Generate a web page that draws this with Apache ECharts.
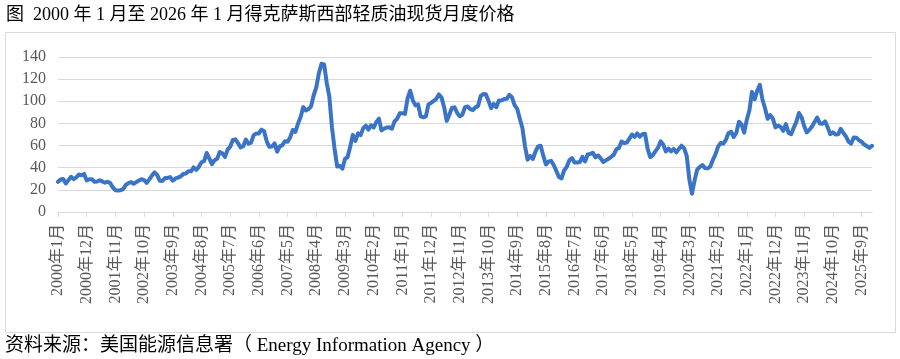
<!DOCTYPE html>
<html><head><meta charset="utf-8">
<script src="https://cdn.jsdelivr.net/npm/echarts@6/dist/echarts.min.js"></script>
<style>html,body{margin:0;padding:0;background:#fff}#c{width:900px;height:359px}</style>
</head><body><div id="c"></div>
<script>
const years = [];
for (let y = 2000; y <= 2026; y++) years.push(y);
const p2000 = [27.26, 29.37, 29.84, 25.72, 28.79, 31.82, 29.70, 31.26, 33.88, 33.11, 34.42, 28.44];
const p2001 = [29.59, 29.61, 27.25, 27.49, 28.63, 27.60, 26.43, 27.37, 26.20, 22.17, 19.64, 19.39];
const p2002 = [19.72, 20.72, 24.53, 26.18, 27.04, 25.52, 26.97, 28.39, 29.66, 28.84, 26.35, 29.46];
const p2003 = [32.95, 35.83, 33.51, 28.17, 28.11, 30.66, 30.75, 31.57, 28.31, 30.34, 31.11, 32.13];
const p2004 = [34.31, 34.69, 36.74, 36.75, 40.28, 38.03, 40.78, 44.90, 45.94, 53.28, 48.47, 43.15];
const p2005 = [46.84, 48.15, 54.19, 52.98, 49.83, 56.35, 59.00, 64.99, 65.59, 62.26, 58.32, 59.41];
const p2006 = [65.49, 61.63, 62.69, 69.44, 70.84, 70.95, 74.41, 73.04, 63.80, 58.89, 59.08, 61.96];
const p2007 = [54.51, 59.28, 60.44, 63.98, 63.46, 67.49, 74.12, 72.36, 79.92, 85.80, 94.77, 91.69];
const p2008 = [92.97, 95.39, 105.45, 112.58, 125.40, 133.88, 133.37, 116.67, 104.11, 76.61, 57.31, 41.12];
const p2009 = [41.71, 39.09, 47.94, 49.65, 59.03, 69.64, 64.15, 71.05, 69.41, 75.72, 77.99, 74.47];
const p2010 = [78.33, 76.39, 81.20, 84.29, 73.74, 75.34, 76.32, 76.60, 75.24, 81.89, 84.25, 89.15];
const p2011 = [89.17, 88.58, 102.86, 109.53, 100.90, 96.26, 97.30, 86.33, 85.52, 86.32, 97.16, 98.56];
const p2012 = [100.27, 102.20, 106.16, 103.32, 94.66, 82.30, 87.90, 94.13, 94.51, 89.49, 86.53, 87.86];
const p2013 = [94.76, 95.31, 92.94, 92.02, 94.51, 95.77, 104.67, 106.57, 106.29, 100.54, 93.86, 97.63];
const p2014 = [94.62, 100.82, 100.80, 102.07, 102.18, 105.79, 103.59, 96.54, 93.21, 84.40, 75.79, 59.29];
const p2015 = [47.22, 50.58, 47.82, 54.45, 59.27, 59.82, 50.90, 42.87, 45.48, 46.22, 42.44, 37.19];
const p2016 = [31.68, 30.32, 37.55, 40.75, 46.71, 48.76, 44.65, 44.72, 45.18, 49.78, 45.66, 51.97];
const p2017 = [52.50, 53.47, 49.33, 51.06, 48.48, 45.18, 46.63, 48.04, 49.82, 51.58, 56.64, 57.88];
const p2018 = [63.70, 62.23, 62.73, 66.25, 69.98, 67.87, 70.98, 68.06, 70.23, 70.75, 56.96, 49.52];
const p2019 = [51.38, 54.95, 58.15, 63.86, 60.83, 54.66, 57.35, 54.81, 56.95, 53.96, 57.03, 59.88];
const p2020 = [57.52, 50.54, 29.21, 16.55, 28.56, 38.31, 40.71, 42.34, 39.63, 39.40, 40.94, 47.02];
const p2021 = [52.00, 59.04, 62.33, 61.72, 65.17, 71.38, 72.49, 67.73, 71.65, 81.48, 79.15, 71.71];
const p2022 = [83.22, 91.64, 108.50, 101.78, 109.55, 114.84, 101.62, 93.67, 84.26, 87.55, 84.37, 76.44];
const p2023 = [78.12, 76.83, 73.28, 79.45, 71.58, 70.25, 76.07, 81.39, 89.43, 85.64, 77.69, 71.90];
const p2024 = [74.15, 77.25, 81.28, 85.35, 80.02, 79.77, 81.80, 76.68, 70.24, 71.99, 69.95, 70.12];
const p2025 = [75.10, 71.53, 68.24, 63.54, 61.81, 67.33, 67.16, 64.86, 63.53, 60.89, 59.60, 57.90];
const p2026 = [59.80];
const yearly = [p2000,p2001,p2002,p2003,p2004,p2005,p2006,p2007,p2008,p2009,p2010,p2011,p2012,
  p2013,p2014,p2015,p2016,p2017,p2018,p2019,p2020,p2021,p2022,p2023,p2024,p2025,p2026];
const categories = [];
const prices = [];
yearly.forEach((arr, i) => arr.forEach((v, m) => { categories.push(years[i] + '年' + (m + 1) + '月'); prices.push(v); }));
const yTicks = [0, 20, 40, 60, 80, 100, 120, 140];
const titleText = '图  2000 年 1 月至 2026 年 1 月得克萨斯西部轻质油现货月度价格';
const sourceText = '资料来源：美国能源信息署（ Energy Information Agency ）';

const FONT = '"Liberation Serif", "Noto Sans CJK SC", serif';
const chart = echarts.init(document.getElementById('c'), null, {renderer: 'canvas'});
chart.setOption({
  animation: false,
  backgroundColor: '#fff',
  graphic: [
    {type: 'rect', shape: {x: 5.5, y: 32.5, width: 890, height: 300}, style: {fill: 'none', stroke: '#d9d9d9', lineWidth: 1}, z: -1},
    {type: 'text', left: 6, top: 6, style: {text: titleText, font: '18px ' + FONT, fill: '#000'}},
    {type: 'text', left: 5, top: 337, style: {text: sourceText, font: '19px ' + FONT, fill: '#000'}}
  ],
  grid: {left: 58, right: 28, top: 57, bottom: 147, containLabel: false},
  xAxis: {
    type: 'category', data: categories, boundaryGap: false,
    axisLine: {lineStyle: {color: '#d9d9d9', width: 1}},
    axisTick: {interval: 10, length: 5, lineStyle: {color: '#d9d9d9'}},
    axisLabel: {interval: 10, rotate: 90, margin: 12, color: '#595959', fontSize: 16, fontFamily: FONT}
  },
  yAxis: {
    type: 'value', min: yTicks[0], max: yTicks[yTicks.length - 1], interval: 20,
    axisLine: {show: false}, axisTick: {show: false},
    splitLine: {lineStyle: {color: '#d9d9d9', width: 1}},
    axisLabel: {margin: 12, color: '#595959', fontSize: 16, fontFamily: FONT}
  },
  series: [{
    type: 'line', data: prices, symbol: 'none', smooth: false,
    lineStyle: {color: '#3a74c6', width: 4, join: 'round', cap: 'round'}
  }]
});
</script></body></html>
